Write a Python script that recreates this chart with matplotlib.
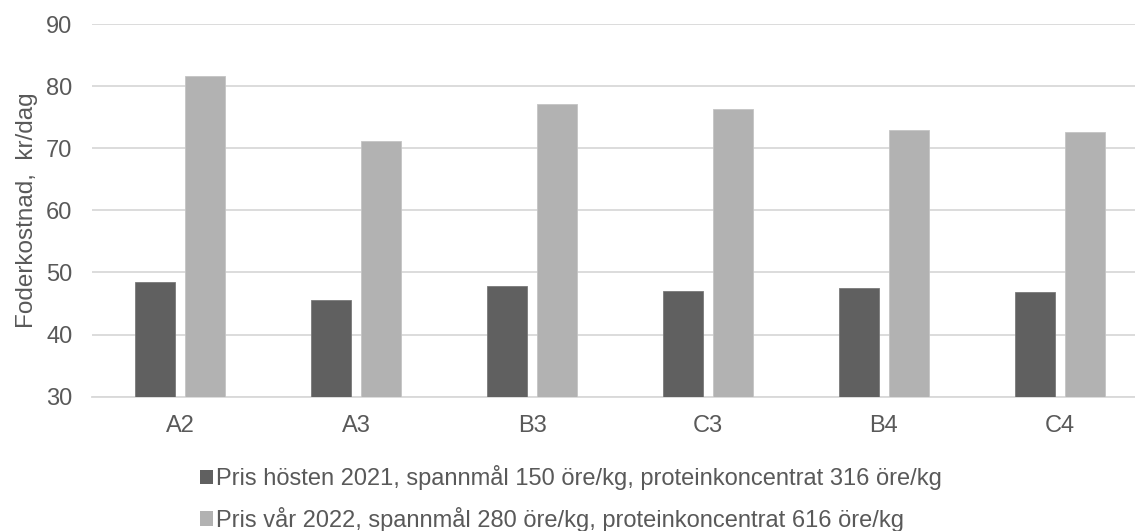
import numpy as np
import matplotlib.pyplot as plt
from matplotlib.patches import Patch

plt.rcParams['font.family'] = ['Liberation Sans', 'DejaVu Sans']

categories = ['A2', 'A3', 'B3', 'C3', 'B4', 'C4']
host_2021 = [48.5, 45.5, 47.9, 47.0, 47.5, 46.9]
var_2022 = [81.6, 71.1, 77.2, 76.3, 72.9, 72.6]
series_labels = ['Pris hösten 2021, spannmål 150 öre/kg, proteinkoncentrat 316 öre/kg',
                 'Pris vår 2022, spannmål 280 öre/kg, proteinkoncentrat 616 öre/kg']
yticks = [30, 40, 50, 60, 70, 80, 90]

dark = '#606060'
light = '#b2b2b2'
txt = '#595959'

fig = plt.figure(figsize=(11.35, 5.31), dpi=100)
ax = fig.add_axes([0.0811, 0.2529, 1.0114 - 0.0811, 0.9548 - 0.2529])

x = np.arange(len(categories))
w = 0.227
ax.bar(x - 0.143, np.array(host_2021) - 30, w, bottom=30, color=dark,
       edgecolor='#7a7a7a', linewidth=0.6, zorder=3)
ax.bar(x + 0.143, np.array(var_2022) - 30, w, bottom=30, color=light,
       edgecolor='#c4c4c4', linewidth=0.6, zorder=3)

ax.set_xlim(-0.5, len(categories) - 0.5)
ax.set_ylim(30, 90)
ax.set_yticks(yticks)
ax.set_xticks(x)
ax.set_xticklabels(categories)
ax.grid(axis='y', color='#d9d9d9', linewidth=1.3, zorder=0)
for s in ['top', 'right', 'left']:
    ax.spines[s].set_visible(False)
ax.spines['bottom'].set_color('#d9d9d9')
ax.spines['bottom'].set_linewidth(1.3)
ax.tick_params(axis='both', length=0, labelsize=17, colors=txt)
ax.tick_params(axis='x', pad=13)
ax.tick_params(axis='y', pad=14)
ax.set_ylabel('Foderkostnad,  kr/dag', fontsize=17.5, color=txt, labelpad=6)

handles = [Patch(facecolor=dark), Patch(facecolor=light)]
fig.legend(handles, series_labels, loc='center', bbox_to_anchor=(0.503, 0.061),
           ncol=1, frameon=False, fontsize=17, labelcolor=txt,
           handlelength=0.55, handleheight=0.55, handletextpad=0.12,
           labelspacing=0.7)

fig.savefig('out.png', dpi=100)
